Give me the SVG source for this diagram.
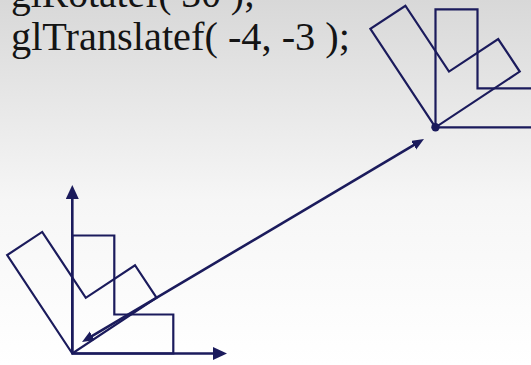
<svg xmlns="http://www.w3.org/2000/svg" width="531" height="365" viewBox="0 0 531 365">
  <defs>
    <linearGradient id="bg" x1="0" y1="0" x2="0" y2="1">
      <stop offset="0" stop-color="#d8d8d8"/>
      <stop offset="0.55" stop-color="#f6f6f6"/>
      <stop offset="1" stop-color="#ffffff"/>
    </linearGradient>
    <marker id="ah" markerUnits="userSpaceOnUse" markerWidth="14" markerHeight="12" refX="2" refY="5" orient="auto-start-reverse">
      <path d="M0,0 L12,5 L0,10 z" fill="#1b1b5c"/>
    </marker>
    <marker id="axh" markerUnits="userSpaceOnUse" markerWidth="16" markerHeight="14" refX="2" refY="6.5" orient="auto">
      <path d="M0,0 L14,6.5 L0,13 z" fill="#1b1b5c"/>
    </marker>
    <polygon id="L" points="0,0 0,-118 42,-118 42,-39 101,-39 101,0"/>
  </defs>
  <style>
    .shape { fill: none; stroke: #1b1b5c; stroke-width: 2.2; stroke-linejoin: miter; }
    .axis { fill: none; stroke: #1b1b5c; stroke-width: 2.6; }
    .conn { fill: none; stroke: #1b1b5c; stroke-width: 2.6; }
    .code { font-family: "Liberation Serif", serif; font-size: 39px; fill: #141414; }
  </style>
  <rect x="0" y="0" width="531" height="365" fill="url(#bg)"/>

  <g id="code-text">
    <text class="code" x="11" y="7" textLength="244" lengthAdjust="spacingAndGlyphs">glRotatef( 30 );</text>
    <text class="code" x="11" y="49.5" textLength="339" lengthAdjust="spacingAndGlyphs">glTranslatef( -4, -3 );</text>
  </g>

  <g id="local-frame" transform="translate(72.3,353.5)">
    <use href="#L" class="shape"/>
    <use href="#L" class="shape" transform="rotate(-33.5)"/>
    <line class="axis" x1="0" y1="0" x2="0" y2="-156.5" marker-end="url(#axh)"/>
    <line class="axis" x1="0" y1="0" x2="142.7" y2="0" marker-end="url(#axh)"/>
  </g>

  <g id="moved-frame" transform="translate(435.5,127.3)">
    <use href="#L" class="shape"/>
    <use href="#L" class="shape" transform="rotate(-33.5)"/>
    <circle cx="0" cy="0" r="4.2" fill="#1b1b5c"/>
  </g>

  <g id="connectors">
    <line class="conn" x1="90.6" y1="336.9" x2="415.4" y2="144.1" marker-start="url(#ah)" marker-end="url(#ah)"/>
  </g>
</svg>
